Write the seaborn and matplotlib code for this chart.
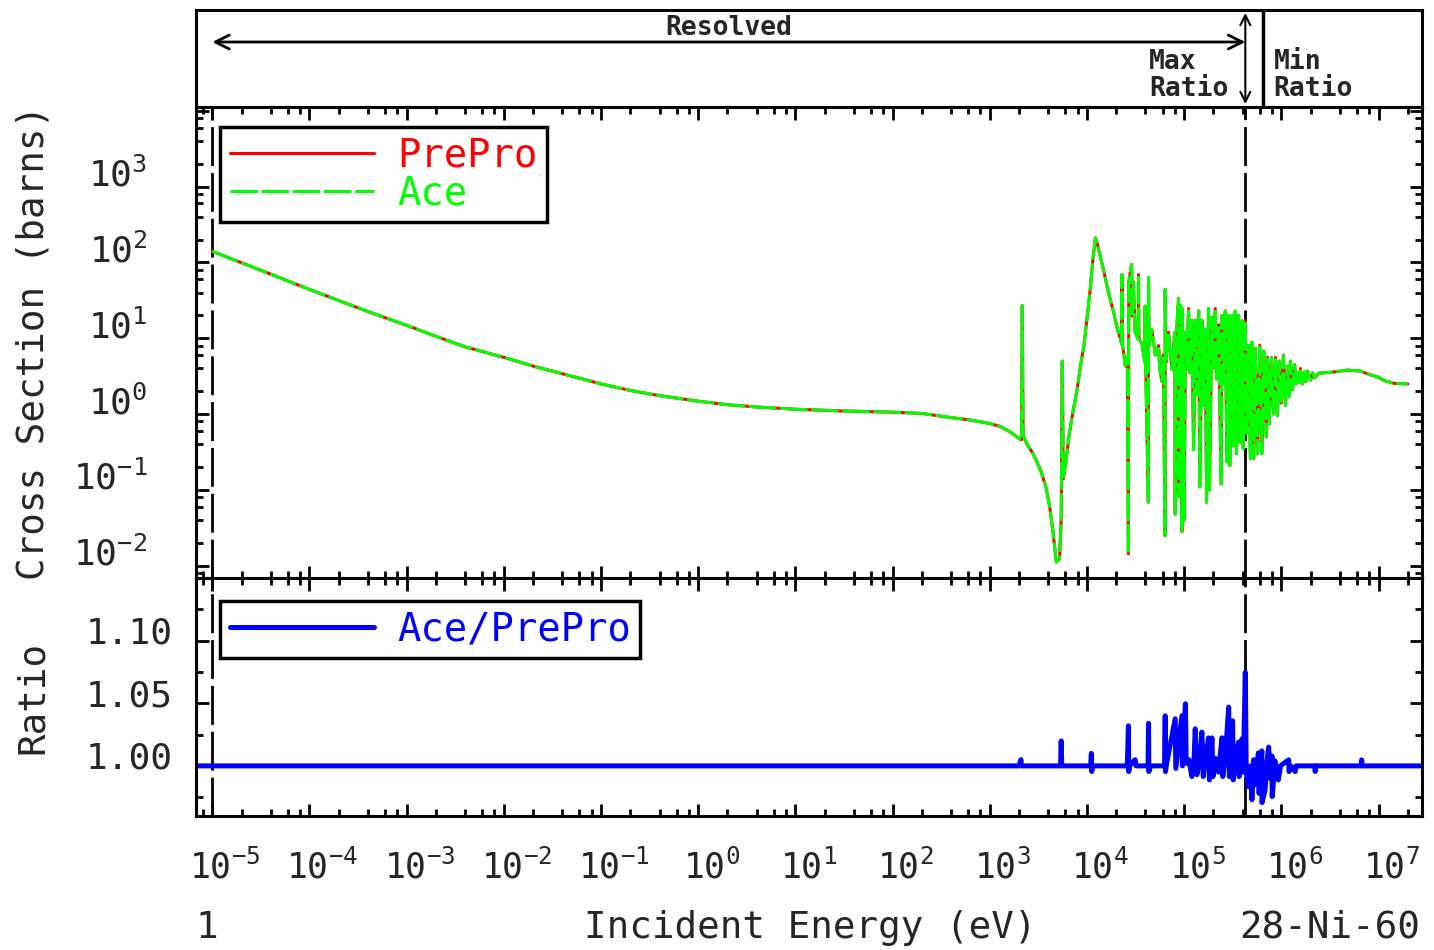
import math
import matplotlib
matplotlib.use("Agg")
import matplotlib.pyplot as plt
import matplotlib.ticker as mticker
import matplotlib.transforms as mtransforms
import pandas as pd
import seaborn as sns

# ---------------- data (28-Ni-60) ----------------
energy_ev = [
    1.0e-5, 2.0e-5, 4.0e-5, 1.0e-4, 2.0e-4, 4.0e-4, 1.0e-3, 2.0e-3, 4.0e-3,
    1.0e-2, 2.0e-2, 4.0e-2, 1.0e-1, 2.0e-1, 4.0e-1, 1.0, 2.0, 4.0, 10.0, 30.0,
    100.0, 200.0, 400.0, 650.0, 960.0, 1.27e3, 1.6e3, 1.95e3, 2.12e3, 2.16e3,
    2.20e3, 2.48e3, 2.79e3, 3.08e3, 3.39e3, 3.75e3, 4.12e3, 4.47e3, 4.83e3,
    5.22e3, 5.43e3, 5.57e3, 5.70e3, 6.12e3, 6.6e3, 7.16e3, 7.93e3, 8.57e3,
    9.29e3, 9.97e3, 1.08e4, 1.15e4, 1.22e4,
    1.28e4, 1.37e4, 1.48e4, 1.60e4, 1.73e4, 1.88e4, 2.03e4, 2.20e4, 2.28e4,
    2.29e4, 2.31e4, 2.40e4, 2.48e4, 2.60e4, 2.67e4, 2.69e4, 2.88e4, 2.92e4,
    3.00e4, 3.13e4, 3.36e4, 3.39e4, 3.42e4, 3.67e4, 3.95e4, 3.97e4, 4.00e4,
    4.28e4, 4.30e4, 4.35e4, 4.66e4, 5.04e4, 5.45e4, 5.60e4, 5.90e4, 6.10e4,
    6.36e4, 6.38e4, 6.50e4, 6.90e4, 7.48e4, 8.00e4, 8.09e4, 8.20e4, 8.75e4,
    8.80e4, 9.20e4, 9.48e4, 9.60e4, 1.00e5, 1.03e5, 1.06e5, 1.11e5, 1.14e5,
    1.20e5, 1.25e5, 1.30e5, 1.35e5, 1.41e5, 1.45e5, 1.52e5, 1.56e5, 1.65e5,
    1.70e5, 1.78e5, 1.82e5, 1.93e5, 1.98e5, 2.09e5, 2.15e5, 2.26e5, 2.40e5,
    2.45e5, 2.55e5, 2.65e5, 2.75e5, 2.87e5, 2.95e5, 3.10e5, 3.20e5, 3.35e5,
    3.45e5, 3.63e5, 3.75e5, 3.93e5, 4.05e5, 4.25e5, 4.40e5,
    4.60e5, 4.80e5, 4.97e5, 5.20e5, 5.40e5, 5.70e5, 6.00e5, 6.30e5, 6.60e5,
    7.00e5, 7.20e5, 7.50e5, 7.90e5, 8.30e5, 8.70e5, 9.10e5, 9.50e5, 1.00e6,
    1.05e6, 1.10e6, 1.16e6, 1.20e6, 1.24e6, 1.30e6, 1.37e6, 1.42e6, 1.47e6,
    1.52e6, 1.57e6, 1.65e6, 1.73e6, 1.80e6, 1.86e6, 2.00e6, 2.09e6, 2.20e6,
    2.41e6, 3.27e6, 4.80e6, 6.50e6, 7.85e6, 9.90e6, 1.17e7, 1.45e7, 2.00e7,
]
xs_barns = [
    140, 99, 70, 44, 31.5, 22.5, 14.8, 10.6, 7.7,
    5.6, 4.3, 3.4, 2.5, 2.05, 1.75, 1.48, 1.33, 1.24, 1.16, 1.10,
    1.06, 1.02, 0.90, 0.83, 0.76, 0.69, 0.59, 0.49, 0.46, 27,
    0.52, 0.38, 0.30, 0.23, 0.171, 0.114, 0.062, 0.028, 0.0112,
    0.0124, 0.042, 5.0, 0.14, 0.256, 0.57, 1.05, 2.13, 4.3,
    7.9, 17.8, 44, 110, 211,
    175, 120, 80, 50, 33, 22, 14, 10, 8.3,
    69, 8.5, 6.0, 4.3, 5.5, 0.0144, 55, 94, 19.6,
    55, 12, 9.7, 69, 10, 8.5, 4.8, 26.6, 6.0,
    0.069, 63, 8.0, 13, 6.0, 8.0, 4.0, 2.7, 6.0,
    0.025, 44, 4.8, 12, 3.9, 12, 0.048, 8.0, 33.6,
    0.081, 27, 0.028, 24.6, 0.04, 12, 3.9, 24.6, 3.5,
    17.3, 0.34, 17.3, 1.8, 22.9, 0.11, 17.3, 1.29, 13,
    0.069, 24.6, 0.10, 19, 4.0, 24.6, 2.9, 15, 0.12,
    20, 2.5, 22.9, 0.235, 20, 0.21, 20, 0.38, 22.9,
    0.30, 20, 0.42, 17, 0.35, 17, 0.55,
    8.1, 0.26, 8.9, 0.26, 7.4, 0.30, 8.1, 0.30, 6.8,
    0.50, 5.6, 0.74, 5.6, 1.0, 5.6, 0.95, 5.0, 1.4,
    6.0, 1.3, 4.3, 1.7, 5.0, 2.1, 4.5, 2.5, 3.56,
    2.6, 4.0, 2.5, 3.6, 2.7, 3.7, 2.8, 3.5, 3.0,
    3.46, 3.56, 3.8, 3.7, 3.36, 3.07, 2.74, 2.54, 2.5,
]

ratio_energy_ev = [
    6.8e-6, 2.0e3, 2.09e3, 2.12e3, 5.35e3, 5.43e3, 5.5e3, 1.09e4, 1.11e4,
    1.12e4, 1.14e4, 2.6e4, 2.67e4, 2.69e4, 2.75e4, 3.13e4, 3.2e4, 4.25e4,
    4.30e4, 4.33e4, 4.5e4, 6.3e4, 6.38e4, 6.42e4, 6.6e4, 8.09e4, 8.2e4,
    9.48e4, 9.6e4, 1.03e5, 1.05e5, 1.12e5, 1.20e5, 1.26e5, 1.30e5, 1.35e5,
    1.45e5, 1.52e5, 1.57e5, 1.65e5, 1.78e5, 1.82e5, 1.93e5, 1.98e5, 2.1e5,
    2.26e5, 2.45e5, 2.5e5, 2.65e5, 2.87e5, 2.92e5, 3.15e5, 3.2e5, 3.35e5,
    3.63e5, 3.68e5, 3.93e5, 4.05e5, 4.26e5, 4.35e5, 4.6e5, 4.8e5, 4.98e5,
    5.2e5, 5.45e5, 5.8e5, 5.9e5, 6.3e5, 6.32e5, 6.8e5, 7.1e5, 7.4e5,
    7.7e5, 8.0e5, 8.05e5, 8.6e5, 9.3e5, 9.8e5, 1.1e6, 1.19e6, 1.2e6,
    1.25e6, 1.39e6, 1.42e6, 2.2e6, 2.23e6, 2.26e6, 6.6e6, 6.7e6, 6.8e6,
    2.8e7,
]
ratio_value = [
    1.0, 1.0, 1.005, 1.0, 1.0, 1.020, 1.0, 1.0, 1.010,
    0.9955, 1.0, 1.0, 1.032, 0.9955, 1.0, 1.005, 1.0, 1.0,
    1.034, 0.9955, 1.0, 1.0, 1.040, 0.9955, 1.002, 1.0376, 0.998,
    1.040, 1.0, 1.0496, 1.002, 1.005, 0.9915, 1.003, 1.0296, 0.993,
    1.005, 1.027, 0.9915, 1.006, 1.0224, 0.9888, 1.0224, 0.9915, 1.006,
    0.995, 1.0224, 0.9915, 1.006, 1.047, 0.9915, 1.036, 0.9888, 1.005,
    1.019, 0.9915, 1.0216, 0.995, 1.0747, 0.995, 0.9835, 1.0, 0.973,
    1.005, 0.985, 1.0104, 0.978, 1.012, 0.9707, 0.9808, 1.003, 1.015,
    0.990, 1.008, 0.9755, 1.004, 0.9888, 1.0, 1.003, 1.0048, 0.9955,
    1.0, 0.9955, 1.0, 1.0, 0.9955, 1.0, 1.0, 1.0048, 1.0,
    1.0,
]

x_limits = (6.8e-6, 2.8e7)
xs_limits = (6.9e-3, 1.12e4)
ratio_limits = (0.96, 1.15)
resolved_range = (1.0e-5, 4.26e5)
max_ratio_energy = 4.26e5
min_ratio_energy = 6.4e5

# ---------------- style ----------------
sns.set_theme(style="white")
plt.rcParams["font.family"] = ["DejaVu Sans Mono"]
plt.rcParams["mathtext.default"] = "regular"
plt.rcParams["axes.edgecolor"] = "black"
plt.rcParams["axes.linewidth"] = 2.2

RED, GREEN, BLUE = "#ff0000", "#00ff00", "#0000ff"

fig = plt.figure(figsize=(14.34, 9.5), dpi=100)
L, W = 196 / 1434, 1226 / 1434
ax_top = fig.add_axes([L, 1 - 107 / 950, W, 97 / 950])
ax = fig.add_axes([L, 1 - 578 / 950, W, 471 / 950])
ax_r = fig.add_axes([L, 1 - 816 / 950, W, 238 / 950])

df = pd.DataFrame({"energy": energy_ev, "xs": xs_barns})
df_r = pd.DataFrame({"energy": ratio_energy_ev, "ratio": ratio_value})

for a in (ax_top, ax, ax_r):
    a.set_xscale("log")
    a.set_xlim(*x_limits)
ax.set_yscale("log")

# ---------------- cross section panel ----------------
sns.lineplot(data=df, x="energy", y="xs", ax=ax, color=RED, lw=2.2,
             sort=False, estimator=None, label="PrePro")
sns.lineplot(data=df, x="energy", y="xs", ax=ax, color=GREEN, lw=2.2,
             sort=False, estimator=None, label="Ace", linestyle=(0, (9, 1.2)))
ax.set_ylim(*xs_limits)

# ---------------- ratio panel ----------------
sns.lineplot(data=df_r, x="energy", y="ratio", ax=ax_r, color=BLUE, lw=3.6,
             sort=False, estimator=None, label="Ace/PrePro")
ax_r.set_ylim(*ratio_limits)

# dashed markers: start of data and max ratio
for a in (ax, ax_r):
    for e in (resolved_range[0], max_ratio_energy):
        a.axvline(e, color="black", lw=2, linestyle=(0, (14, 2.5)), zorder=1)

# ---------------- ticks ----------------
for a in (ax, ax_r):
    a.xaxis.set_major_locator(mticker.LogLocator(base=10, numticks=40))
    a.xaxis.set_minor_locator(mticker.LogLocator(base=10, subs=(2, 4, 6, 8), numticks=40))
    a.tick_params(which="both", direction="in", top=True, right=True,
                  bottom=True, left=True, width=2, color="black")
    a.tick_params(which="major", length=9)
    a.tick_params(which="minor", length=5)
    a.set_xlabel("")
    a.set_ylabel("")


def decade_label(v, pos):
    e = int(round(math.log10(v)))
    return r"$\mathdefault{10^{%d}}$" % e


def ylog_label(v, pos):
    if v > 1.5e3:
        return ""
    return decade_label(v, pos)


ax.yaxis.set_major_locator(mticker.LogLocator(base=10, numticks=20))
ax.yaxis.set_minor_locator(mticker.LogLocator(base=10, subs=(2, 4, 6, 8), numticks=20))
ax.yaxis.set_major_formatter(mticker.FuncFormatter(ylog_label))
ax.tick_params(axis="y", labelsize=26, pad=35)
ax.tick_params(axis="x", labelbottom=False)

ax_r.xaxis.set_major_formatter(mticker.FuncFormatter(decade_label))
ax_r.yaxis.set_major_locator(mticker.MultipleLocator(0.05))
ax_r.yaxis.set_minor_locator(mticker.MultipleLocator(0.025))
ax_r.yaxis.set_major_formatter(mticker.FuncFormatter(
    lambda v, p: "" if v > 1.12 else "%.2f" % v))
ax_r.tick_params(axis="y", labelsize=26, pad=17)
ax_r.tick_params(axis="x", labelsize=25, pad=24)

# labels sit on their tick like the original plot; x labels shifted so "10" is centred
for lab in ax.get_yticklabels():
    lab.set_verticalalignment("baseline")
down = mtransforms.ScaledTranslation(0, -0.03, fig.dpi_scale_trans)
for lab in ax_r.get_yticklabels():
    lab.set_verticalalignment("baseline")
    lab.set_transform(lab.get_transform() + down)
shift = mtransforms.ScaledTranslation(0.13, 0, fig.dpi_scale_trans)
for lab in ax_r.get_xticklabels():
    lab.set_transform(lab.get_transform() + shift)

ax.set_ylabel("Cross Section (barns)", fontsize=27)
ax.yaxis.set_label_coords(-0.118, 0.5)
ax_r.set_ylabel("Ratio", fontsize=27)
ax_r.yaxis.set_label_coords(-0.118, 0.5)

# ---------------- legends ----------------
leg = ax.legend(loc="upper left", bbox_to_anchor=(0.0196, 0.9575), borderaxespad=0,
                frameon=True, fancybox=False, edgecolor="black", framealpha=1,
                fontsize=28, handlelength=3.7, handletextpad=0.6, borderpad=0.25,
                labelspacing=0.0)
leg.get_frame().set_linewidth(2.5)
for t, c in zip(leg.get_texts(), [RED, GREEN]):
    t.set_color(c)

leg_r = ax_r.legend(loc="upper left", bbox_to_anchor=(0.0196, 0.904), borderaxespad=0,
                    frameon=True, fancybox=False, edgecolor="black", framealpha=1,
                    fontsize=28, handlelength=3.7, handletextpad=0.6, borderpad=0.25)
leg_r.get_frame().set_linewidth(2.5)
leg_r.get_texts()[0].set_color(BLUE)

# ---------------- header panel ----------------
ax_top.set_ylim(0, 1)
ax_top.set_xticks([])
ax_top.set_xticks([], minor=True)
ax_top.set_yticks([])
ax_top.annotate("", xy=(resolved_range[0], 0.67), xytext=(resolved_range[1], 0.67),
                arrowprops=dict(arrowstyle="<->", lw=2, color="black",
                                mutation_scale=25, shrinkA=0, shrinkB=0))
ax_top.text((resolved_range[0] * resolved_range[1]) ** 0.5, 0.81, "Resolved",
            ha="center", va="center", fontsize=19, fontweight="bold")
ax_top.annotate("", xy=(max_ratio_energy, 0.03), xytext=(max_ratio_energy, 0.97),
                arrowprops=dict(arrowstyle="<->", lw=1.5, color="black",
                                mutation_scale=18, shrinkA=0, shrinkB=0))
ax_top.axvline(min_ratio_energy, color="black", lw=2.5)
ax_top.annotate("Max\nRatio", xy=(max_ratio_energy, 0.32), xytext=(-12, 0),
                textcoords="offset points", ha="right", va="center",
                multialignment="left", fontsize=19, fontweight="bold", linespacing=1.05)
ax_top.annotate("Min\nRatio", xy=(min_ratio_energy, 0.32), xytext=(8, 0),
                textcoords="offset points", ha="left", va="center",
                multialignment="left", fontsize=19, fontweight="bold", linespacing=1.05)

# ---------------- bottom texts ----------------
fig.text(207 / 1434, 1 - 928 / 950, "1", ha="center", va="center", fontsize=27)
fig.text(810 / 1434, 1 - 928 / 950, "Incident Energy (eV)", ha="center", va="center",
         fontsize=27)
fig.text(1420 / 1434, 1 - 928 / 950, "28-Ni-60", ha="right", va="center", fontsize=27)

fig.savefig("out.png", dpi=100, facecolor="white")
plt.close(fig)
